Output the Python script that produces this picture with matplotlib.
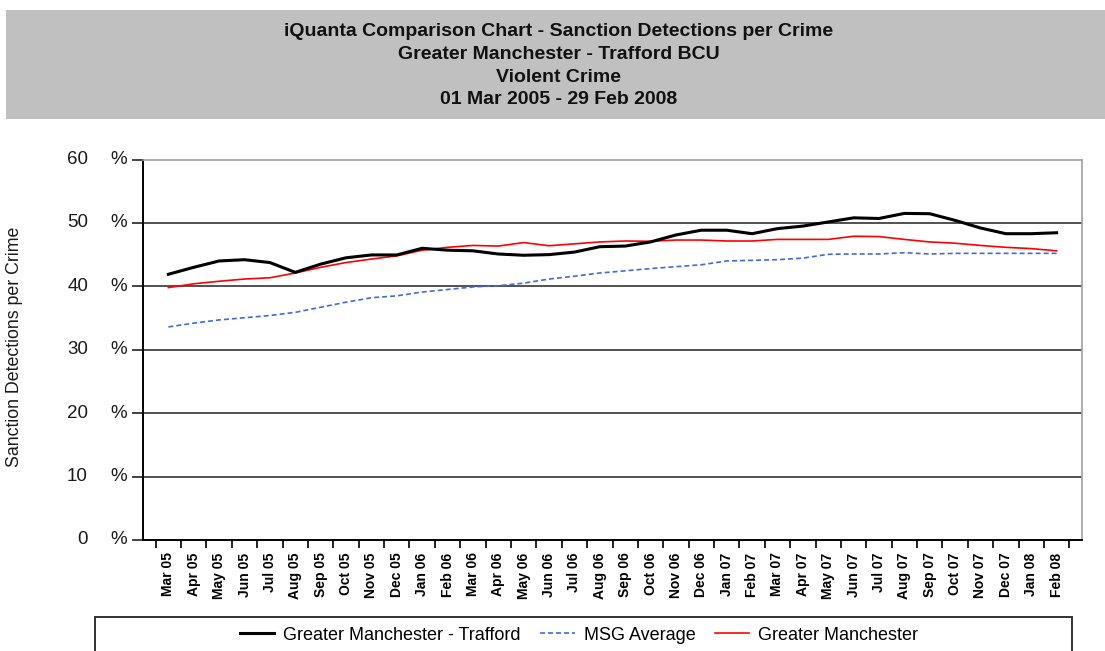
import numpy as np
import matplotlib
matplotlib.use("Agg")
import matplotlib.pyplot as plt
from matplotlib.patches import Rectangle

plt.rcParams["font.family"] = ["Liberation Sans", "DejaVu Sans"]

# Monthly labels, Mar 2005 - Feb 2008
months = [
    "Mar 05", "Apr 05", "May 05", "Jun 05", "Jul 05", "Aug 05", "Sep 05", "Oct 05",
    "Nov 05", "Dec 05", "Jan 06", "Feb 06", "Mar 06", "Apr 06", "May 06", "Jun 06",
    "Jul 06", "Aug 06", "Sep 06", "Oct 06", "Nov 06", "Dec 06", "Jan 07", "Feb 07",
    "Mar 07", "Apr 07", "May 07", "Jun 07", "Jul 07", "Aug 07", "Sep 07", "Oct 07",
    "Nov 07", "Dec 07", "Jan 08", "Feb 08",
]

# Sanction detections per crime (%)
trafford = [
    41.9, 43.0, 44.0, 44.2, 43.75, 42.2, 43.5, 44.5, 44.95, 44.95, 46.0, 45.7,
    45.6, 45.1, 44.9, 45.0, 45.4, 46.25, 46.35, 47.0, 48.1, 48.85, 48.85, 48.3,
    49.1, 49.5, 50.15, 50.8, 50.7, 51.5, 51.45, 50.4, 49.2, 48.3, 48.3, 48.45,
]
msg_average = [
    33.6, 34.2, 34.7, 35.05, 35.4, 35.9, 36.7, 37.5, 38.2, 38.5, 39.1, 39.5,
    39.9, 40.1, 40.5, 41.15, 41.6, 42.1, 42.45, 42.8, 43.1, 43.4, 44.0, 44.1,
    44.2, 44.45, 45.05, 45.1, 45.1, 45.3, 45.1, 45.2, 45.2, 45.2, 45.2, 45.2,
]
greater_manchester = [
    39.8, 40.4, 40.8, 41.15, 41.35, 42.1, 43.0, 43.75, 44.3, 44.8, 45.7, 46.15,
    46.45, 46.35, 46.9, 46.4, 46.7, 47.0, 47.15, 47.1, 47.3, 47.3, 47.15, 47.15,
    47.4, 47.4, 47.4, 47.9, 47.85, 47.4, 47.0, 46.8, 46.45, 46.15, 45.95, 45.6,
]
y_ticks = [0, 10, 20, 30, 40, 50, 60]

title_lines = [
    "iQuanta Comparison Chart - Sanction Detections per Crime",
    "Greater Manchester - Trafford BCU",
    "Violent Crime",
    "01 Mar 2005 - 29 Feb 2008",
]

W, H = 1105, 651
fig = plt.figure(figsize=(W / 100, H / 100), dpi=100)

# grey title band
fig.patches.append(Rectangle((6 / W, 1 - 119 / H), 1 - 6 / W, 109 / H,
                             transform=fig.transFigure, facecolor="#c0c0c0",
                             edgecolor="none", zorder=0))
for i, line in enumerate(title_lines):
    fig.text(559 / W, 1 - (32 + 22.5 * i) / H, line, ha="center", va="center",
             fontsize=14, fontweight="bold", color="#111111")

ax = fig.add_axes([143 / W, 1 - 540 / H, (1082 - 143) / W, (540 - 159.5) / H])

x = np.arange(len(months))
l1, = ax.plot(x, trafford, color="black", lw=2.2, label="Greater Manchester - Trafford", zorder=4)
l2, = ax.plot(x, msg_average, color="#4169e1", lw=1.2, ls=(0, (3, 1.8)), label="MSG Average", zorder=3)
l3, = ax.plot(x, greater_manchester, color="#ff0000", lw=1.2, label="Greater Manchester", zorder=3)

ax.set_xlim(-1, len(months))
ax.set_ylim(0, 60)

# horizontal grid
for v in y_ticks[1:-1]:
    ax.axhline(v, color="#222222", lw=1.1, zorder=1)

ax.spines["top"].set_color("#a0a0a0")
ax.spines["right"].set_color("#a0a0a0")
ax.spines["top"].set_linewidth(1.2)
ax.spines["right"].set_linewidth(1.2)
ax.spines["left"].set_linewidth(1.4)
ax.spines["bottom"].set_linewidth(1.4)

ax.set_yticks(y_ticks)
ax.set_yticklabels([])
ax.tick_params(axis="y", length=8, width=1.2, color="#222222")
ytr = ax.get_yaxis_transform()
for v in y_ticks:
    ax.text(-55 / 939, v, str(v), transform=ytr, ha="right", va="center",
            fontsize=13.5, color="#1a1a1a")
    ax.text(-33 / 939, v, "%", transform=ytr, ha="left", va="center",
            fontsize=13.5, color="#1a1a1a")

ax.set_xticks(x)
ax.set_xticklabels(months, rotation=90, fontsize=10, fontweight="bold")
ax.tick_params(axis="x", length=0, pad=9)
ax.set_xticks(np.arange(-0.5, len(months)), minor=True)
ax.tick_params(axis="x", which="minor", length=6, width=1.4, color="#222222")

fig.text(15 / W, 1 - 347 / H, "Sanction Detections per Crime", rotation=90,
         ha="center", va="center", fontsize=12.8, color="#1a1a1a")

# legend box at bottom
fig.patches.append(Rectangle((95 / W, -0.1), (1072 - 95) / W, 0.1 + (651 - 617) / H,
                             transform=fig.transFigure, facecolor="white",
                             edgecolor="#333333", lw=1.4, clip_on=False))
fig.legend(handles=[l1, l2, l3], loc="center", bbox_to_anchor=(579 / W, (651 - 635) / H),
           ncol=3, frameon=False, fontsize=13, handlelength=1.9,
           handletextpad=0.5, columnspacing=1.1)

fig.savefig("out.png", dpi=100)
